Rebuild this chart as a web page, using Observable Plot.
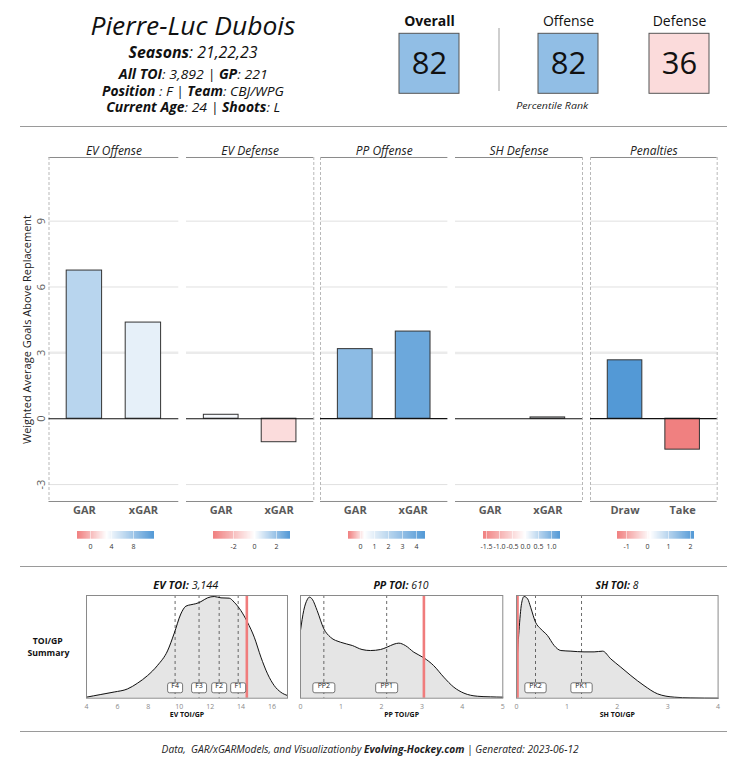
<!DOCTYPE html>
<html><head><meta charset="utf-8">
<script src="https://cdn.jsdelivr.net/npm/d3@7"></script>
<script src="https://cdn.jsdelivr.net/npm/@observablehq/plot@0.6"></script>
<style>
body{margin:0;background:#fff;}
#root{position:relative;width:731px;height:767px;font-family:"Open Sans",sans-serif;color:#111;overflow:hidden;background:#fff;}
.hl{position:absolute;height:0;border-top:1.3px solid #9a9a9a;}
</style></head><body><div id="root"></div>
<script>
// ---------------- data ----------------
const playerName = "Pierre-Luc Dubois";
const seasons = "21,22,23";
const allTOI = "3,892", gamesPlayed = "221", position = "F", team = "CBJ/WPG", age = "24", shoots = "L";

const pctLabels = ["Overall", "Offense", "Defense"];
const pctValues = [82, 82, 36];

const panelTitles = ["EV Offense", "EV Defense", "PP Offense", "SH Defense", "Penalties"];
const panelCats = [["GAR", "xGAR"], ["GAR", "xGAR"], ["GAR", "xGAR"], ["GAR", "xGAR"], ["Draw", "Take"]];
const panelValues = [[6.75, 4.38], [0.18, -1.07], [3.17, 3.97], [0.0, 0.06], [2.66, -1.41]];
const legendDomains = [[-2.35, 3.1, 11.9], [-3.84, 0, 3.32], [-0.83, 0.3, 4.6], [-1.61, 0, 1.35], [-1.4, 0.15, 2.2]];
const legendTicks = [[0, 4, 8], [-2, 0, 2], [0, 1, 2, 3, 4], [-1.5, -1, -0.5, 0, 0.5, 1], [-1, 0, 1, 2]];
const legendDecimals = [0, 0, 0, 1, 0];
const yTicks = [-3, 0, 3, 6, 9];
const yTitle = "Weighted Average Goals Above Replacement";

const densTitles = [["EV TOI:", "3,144"], ["PP TOI:", "610"], ["SH TOI:", "8"]];
const densAxisLabels = ["EV TOI/GP", "PP TOI/GP", "SH TOI/GP"];
const densDomains = [[4, 17], [0, 5], [0, 4]];
const densTicks = [[4, 6, 8, 10, 12, 14, 16], [0, 1, 2, 3, 4, 5], [0, 1, 2, 3, 4]];
const evX = [4, 4.93, 5.79, 6.65, 7.3, 7.95, 8.6, 9.24, 9.67, 10.1, 10.43, 10.75, 11.07, 11.4, 11.83, 12.26, 12.7, 13.23, 13.55, 13.98, 14.41, 14.85, 15.28, 15.71, 16.14, 16.57, 17];
const evD = [0.01, 0.036, 0.06, 0.09, 0.146, 0.22, 0.32, 0.46, 0.63, 0.82, 0.896, 0.91, 0.92, 0.94, 0.977, 0.99, 0.977, 0.974, 0.935, 0.854, 0.74, 0.594, 0.4, 0.237, 0.123, 0.058, 0.026];
const ppX = [0, 0.08, 0.165, 0.22, 0.29, 0.41, 0.577, 0.74, 0.99, 1.28, 1.52, 1.73, 1.98, 2.14, 2.31, 2.43, 2.59, 2.8, 3.05, 3.29, 3.54, 3.79, 4.04, 4.37, 4.7, 5];
const ppD = [0.66, 0.854, 0.958, 0.984, 0.964, 0.854, 0.675, 0.594, 0.545, 0.513, 0.474, 0.464, 0.474, 0.497, 0.526, 0.536, 0.513, 0.448, 0.393, 0.318, 0.205, 0.107, 0.049, 0.019, 0.013, 0.01];
const shX = [0, 0.05, 0.1, 0.15, 0.22, 0.28, 0.377, 0.48, 0.615, 0.747, 0.88, 1.08, 1.34, 1.54, 1.71, 1.87, 2.07, 2.27, 2.53, 2.8, 3.13, 3.46, 4];
const shD = [0.27, 0.66, 0.92, 0.99, 0.968, 0.886, 0.74, 0.675, 0.61, 0.513, 0.464, 0.458, 0.451, 0.451, 0.458, 0.383, 0.302, 0.22, 0.123, 0.042, 0.01, 0.003, 0];
const markerNames = [["F4", "F3", "F2", "F1"], ["PP2", "PP1"], ["PK2", "PK1"]];
const markerValues = [[9.73, 11.28, 12.58, 13.81], [0.577, 2.13], [0.377, 1.29]];
const playerTOI = [14.37, 3.05, 0.02];

// ---------------- layout / style ----------------
const root = document.getElementById("root");
const FONT = '"Open Sans", sans-serif';
const RED = "#f08080", BLUE = "#5399d6";
const baseStyle = {fontFamily: FONT, background: "transparent", overflow: "visible", maxWidth: "none"};

function divInterp(lo, mid, hi) {
  const tm = (mid - lo) / (hi - lo);
  const a = d3.interpolateRgb(RED, "#ffffff"), b = d3.interpolateRgb("#ffffff", BLUE);
  return (t) => t <= tm ? a(t / tm) : b((t - tm) / (1 - tm));
}
function addAbs(el, left, top) {
  el.style.position = "absolute"; el.style.left = left + "px"; el.style.top = top + "px";
  root.appendChild(el); return el;
}
function textLine(html, cx, baseline, fs, targetW, css = "") {
  const el = document.createElement("div");
  el.innerHTML = html;
  el.style.cssText = `position:absolute;white-space:nowrap;line-height:1;font-size:${fs}px;${css}`;
  root.appendChild(el);
  const w = el.getBoundingClientRect().width;
  el.style.left = (cx - w / 2) + "px";
  el.style.top = (baseline - 0.888 * fs) + "px";
  if (targetW) {
    const s = Math.max(0.72, Math.min(1.2, targetW / w));
    el.style.transformOrigin = "center";
    el.style.transform = `scaleX(${s})`;
  }
  return el;
}
function hline(y, x1, x2) {
  const d = document.createElement("div"); d.className = "hl";
  d.style.top = y + "px"; d.style.left = x1 + "px"; d.style.width = (x2 - x1) + "px";
  root.appendChild(d);
}

// ---------------- header ----------------
textLine(playerName, 193, 35, 25, 205, "font-style:italic;color:#111;");
textLine(`<b>Seasons</b>: ${seasons}`, 193, 58.3, 16, 129, "font-style:italic;");
textLine(`<b>All TOI</b>: ${allTOI} | <b>GP</b>: ${gamesPlayed}`, 193, 80, 13.5, 149, "font-style:italic;");
textLine(`<b>Position</b> : ${position} | <b>Team</b>: ${team}`, 193, 96.7, 13.5, 182, "font-style:italic;");
textLine(`<b>Current Age</b>: ${age} | <b>Shoots</b>: ${shoots}`, 193, 113.3, 13.5, 174, "font-style:italic;");

const pctBoxLefts = [399.3, 538.3, 648.7];
const pctColor = {type: "linear", domain: [0, 100], interpolate: divInterp(0, 50, 100), clamp: true, label: null};
pctLabels.forEach((name, i) => {
  const rows = [{name, value: pctValues[i]}];
  const p = Plot.plot({
    width: 104, height: 94.3, marginLeft: 22, marginRight: 22, marginTop: 33.3, marginBottom: 1,
    x: {domain: [name], axis: null, padding: 0},
    color: pctColor,
    style: baseStyle,
    marks: [
      Plot.cell(rows, {x: "name", fill: "value", stroke: "#555", strokeWidth: 1}),
      Plot.text(rows, {x: "name", text: d => String(d.value), fontSize: 31, fill: "#111", frameAnchor: "middle"}),
      Plot.text([name], {frameAnchor: "top", dy: -8, lineAnchor: "bottom", fontSize: 14, fontWeight: i === 0 ? "bold" : "normal", fill: "#111"})
    ]
  });
  addAbs(p, pctBoxLefts[i] - 22, 0);
});
const sep = document.createElement("div");
sep.style.cssText = "position:absolute;left:498px;top:28px;width:1.5px;height:63px;background:#cfcfcf;";
root.appendChild(sep);
textLine("Percentile Rank", 552.7, 109.5, 9.5, 72, "font-style:italic;color:#222;");

hline(126, 20, 727);

// ---------------- bar panels ----------------
const panelFrames = [[48.5, 178.3], [186, 313.3], [320.3, 447.7], [455.3, 582.3], [590, 716.7]];
const panelSides = [["left"], ["right"], ["left"], ["right"], ["left", "right"]];
const PANEL_TOP = 130, FRAME_TOP = 157, FRAME_BOTTOM = 501, PANEL_MB = 22;
const yDomain = [-3.77, 11.9];
const xDomain = [0.4, 2.6];
const rampLefts = [77.3, 213.3, 348.3, 483.3, 617.3];
const rampWidth = 77, rampTop = 531, rampHeight = 7.7, rampPad = 12;

panelTitles.forEach((title, i) => {
  const [fl, fr] = panelFrames[i];
  const first = i === 0;
  const svgLeft = first ? 0 : fl;
  const rows = panelCats[i].map((cat, j) => ({cat, pos: j + 1, value: panelValues[i][j]}));
  const [lo, mid, hi] = legendDomains[i];
  const color = {type: "linear", domain: [lo, hi], interpolate: divInterp(lo, mid, hi), clamp: true, label: null};
  const marks = [
    Plot.ruleY(yTicks.filter(t => t !== 0 && t !== 3), {stroke: "#e0e0e0", strokeWidth: 1}),
    Plot.ruleY([3], {stroke: "#ebebeb", strokeWidth: 2.5}),
    Plot.ruleY([yDomain[1]], {stroke: "#8a8a8a", strokeWidth: 1}),
    Plot.ruleY([yDomain[0]], {stroke: "#8a8a8a", strokeWidth: 1}),
    ...panelSides[i].map(s => Plot.ruleX([s === "left" ? xDomain[0] : xDomain[1]], {stroke: "#b8b8b8", strokeDasharray: "3,2", strokeWidth: 1})),
    Plot.rectY(rows, {x1: d => d.pos - 0.3, x2: d => d.pos + 0.3, y: "value", fill: "value", stroke: "#333", strokeWidth: 1}),
    Plot.ruleY([0], {stroke: "#111", strokeWidth: 1.2}),
    Plot.axisX({ticks: [1, 2], tickFormat: d => panelCats[i][d - 1], tickSize: 0, tickPadding: 5, fontSize: 11, fontWeight: "bold", color: "#5a5a5a", label: null}),
    Plot.text([title], {frameAnchor: "top", dy: -11, fontStyle: "italic", fontSize: 12, fill: "#222"})
  ];
  if (first) {
    marks.push(
      Plot.axisY({ticks: yTicks, tickFormat: d => String(d), tickSize: 0, tickPadding: 4, tickRotate: -90, fontSize: 11, color: "#5a5a5a", label: null}),
      Plot.text([yTitle], {frameAnchor: "left", dx: -21.5, rotate: -90, textAnchor: "middle", fontSize: 11, fill: "#222"})
    );
  }
  const plot = Plot.plot({
    width: fr - svgLeft, height: FRAME_BOTTOM - PANEL_TOP + PANEL_MB,
    marginLeft: fl - svgLeft, marginRight: 0, marginTop: FRAME_TOP - PANEL_TOP, marginBottom: PANEL_MB,
    x: {domain: xDomain},
    y: {domain: yDomain, axis: null},
    color,
    style: baseStyle,
    marks
  });
  addAbs(plot, svgLeft, PANEL_TOP);

  const dec = legendDecimals[i];
  const leg = plot.legend("color", {
    width: rampWidth + 2 * rampPad, marginLeft: rampPad, marginRight: rampPad,
    marginTop: 0, marginBottom: 13, height: rampHeight + 13,
    tickSize: 2, ticks: legendTicks[i], tickFormat: d => d.toFixed(dec), label: null,
    style: {fontFamily: FONT, fontSize: "7px", color: "#333", background: "transparent", overflow: "visible"}
  });
  leg.querySelectorAll(".tick line").forEach(l => { l.setAttribute("stroke", "#fff"); l.setAttribute("stroke-opacity", "0.55"); });
  addAbs(leg, rampLefts[i] - rampPad, rampTop);
});

hline(566, 20, 727);

// ---------------- density panels ----------------
const densFrames = [[85.7, 286.7], [300, 502.3], [515.7, 717.3]];
const DENS_TOP = 595, DENS_BOTTOM = 697.7, DENS_MT = 5, DENS_MB = 30, DENS_PAD = 12;
const markerBoxW = [15, 22, 21.3], markerBoxH = 10;
const densX = [evX, ppX, shX], densY = [evD, ppD, shD];

function boxSymbol(w, h) {
  const r = 2;
  return {draw(ctx) {
    const x0 = -w / 2, x1 = w / 2, y0 = -h / 2, y1 = h / 2;
    ctx.moveTo(x0 + r, y0);
    ctx.lineTo(x1 - r, y0); ctx.arcTo(x1, y0, x1, y0 + r, r);
    ctx.lineTo(x1, y1 - r); ctx.arcTo(x1, y1, x1 - r, y1, r);
    ctx.lineTo(x0 + r, y1); ctx.arcTo(x0, y1, x0, y1 - r, r);
    ctx.lineTo(x0, y0 + r); ctx.arcTo(x0, y0, x0 + r, y0, r);
    ctx.closePath();
  }};
}

densFrames.forEach(([fl, fr], k) => {
  const rows = densX[k].map((x, j) => ({x, d: densY[k][j]}));
  const markers = markerNames[k].map((name, j) => ({name, x: markerValues[k][j]}));
  const p = Plot.plot({
    width: fr - fl + 2 * DENS_PAD, height: DENS_BOTTOM - DENS_TOP + DENS_MT + DENS_MB,
    marginLeft: DENS_PAD, marginRight: DENS_PAD, marginTop: DENS_MT, marginBottom: DENS_MB,
    x: {domain: densDomains[k]},
    y: {domain: [0, 1], axis: null},
    style: baseStyle,
    marks: [
      Plot.areaY(rows, {x: "x", y: "d", fill: "#e5e5e5", curve: "monotone-x"}),
      Plot.ruleX(markers, {x: "x", stroke: "#444", strokeDasharray: "3,3", strokeWidth: 0.8}),
      Plot.lineY(rows, {x: "x", y: "d", stroke: "#111", strokeWidth: 1, curve: "monotone-x"}),
      Plot.ruleX([playerTOI[k]], {stroke: "#f07c7c", strokeWidth: 2.6}),
      Plot.dot(markers, {x: "x", frameAnchor: "bottom", dy: -10.4, symbol: boxSymbol(markerBoxW[k], markerBoxH), r: 3, fill: "#fff", stroke: "#555", strokeWidth: 0.8}),
      Plot.text(markers, {x: "x", text: "name", frameAnchor: "bottom", dy: -10.4, fontSize: 7, fill: "#222"}),
      Plot.frame({stroke: "#8a8a8a", strokeWidth: 1}),
      Plot.axisX({ticks: densTicks[k], tickFormat: d => String(d), tickSize: 0, tickPadding: 6, fontSize: 7, color: "#8a8a8a", label: null}),
      Plot.text([densAxisLabels[k]], {frameAnchor: "bottom", dy: 19, fontSize: 7, fontWeight: "bold", fill: "#111"})
    ]
  });
  addAbs(p, fl - DENS_PAD, DENS_TOP - DENS_MT);
  const tw = [65, 55, 43][k];
  textLine(`<b>${densTitles[k][0]}</b> ${densTitles[k][1]}`, (fl + fr) / 2, 589, 11, tw, "font-style:italic;color:#111;");
});

textLine("<b>TOI/GP</b>", 48, 644.8, 8.5, 30, "color:#111;");
textLine("<b>Summary</b>", 48, 657, 8.5, 42, "color:#111;");

hline(731, 20, 727);

textLine(`Data,&nbsp; GAR/xGARModels, and Visualizationby <b>Evolving-Hockey.com</b> | Generated: 2023-06-12`, 370, 752.5, 10, 417, "font-style:italic;color:#222;");
</script>
</body></html>
